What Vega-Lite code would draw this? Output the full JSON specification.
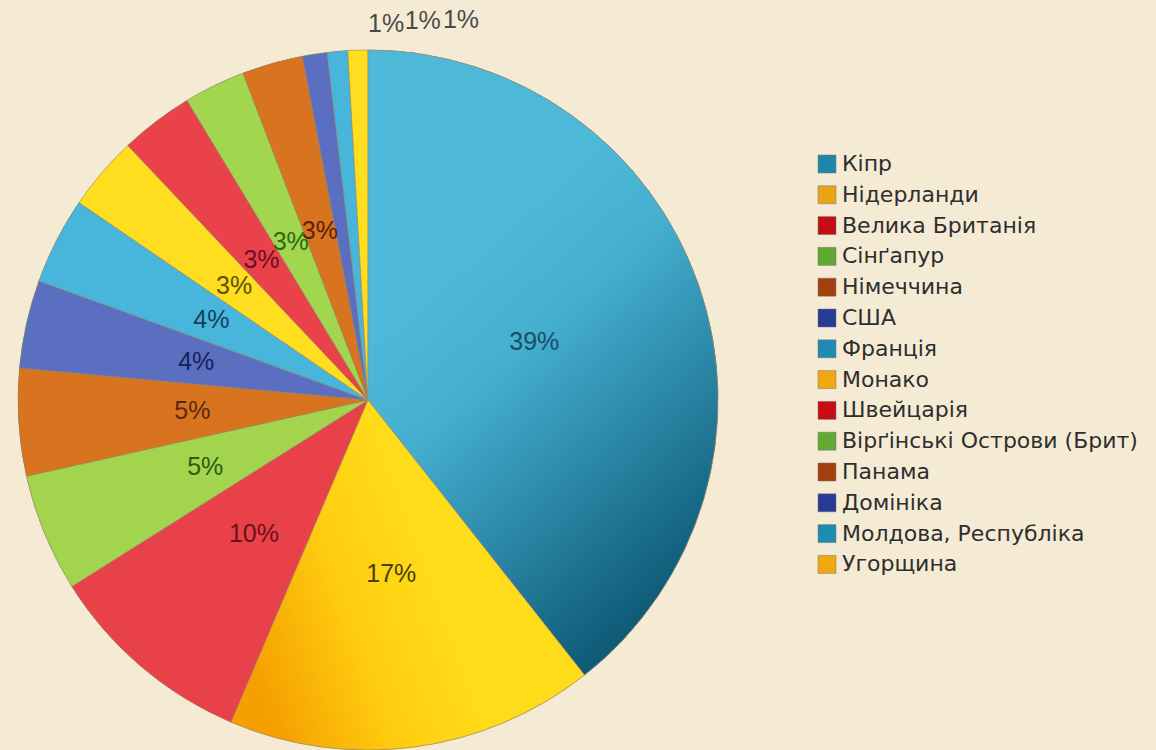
{
  "$schema": "https://vega.github.io/schema/vega-lite/v6.json",
  "width": 736,
  "height": 800,
  "padding": {"left": 0, "top": 0, "right": 19, "bottom": -50},
  "background": "#F5EBD4",
  "config": {"view": {"stroke": null}},
  "data": {
    "values": [
      {"country": "Кіпр", "value": 0.393},
      {"country": "Нідерланди", "value": 0.1697},
      {"country": "Велика Британія", "value": 0.0964},
      {"country": "Сінґапур", "value": 0.0544},
      {"country": "Німеччина", "value": 0.0494},
      {"country": "США", "value": 0.0406},
      {"country": "Франція", "value": 0.0400},
      {"country": "Монако", "value": 0.0342},
      {"country": "Швейцарія", "value": 0.0338},
      {"country": "Вірґінські Острови (Брит)", "value": 0.0283},
      {"country": "Панама", "value": 0.0280},
      {"country": "Домініка", "value": 0.0114},
      {"country": "Молдова, Республіка", "value": 0.0094},
      {"country": "Угорщина", "value": 0.0092}
    ]
  },
  "resolve": {"scale": {"fill": "independent"}},
  "layer": [
    {
      "mark": {"type": "arc", "radius": 350},
      "encoding": {
        "theta": {"field": "value", "type": "quantitative", "stack": true},
        "order": {"field": "value", "sort": "descending"},
        "color": {
          "field": "country", "type": "nominal",
          "scale": {
            "domain": ["Кіпр", "Нідерланди", "Велика Британія", "Сінґапур", "Німеччина", "США", "Франція", "Монако", "Швейцарія", "Вірґінські Острови (Брит)", "Панама", "Домініка", "Молдова, Республіка", "Угорщина"],
            "range": ["#1d86a8", "#eba416", "#c40c14", "#5fa832", "#a2400e", "#263c94", "#1d8cb0", "#f0a810", "#c80c14", "#62aa34", "#a2400e", "#263c94", "#1d8cb0", "#f0a810"]
          },
          "legend": {
            "title": null,
            "orient": "none",
            "legendX": 816,
            "legendY": 153,
            "symbolType": "square",
            "symbolSize": 324,
            "symbolStrokeWidth": 0.5,
            "symbolStrokeColor": "#777777",
            "labelFont": "DejaVu Sans",
            "labelFontSize": 22,
            "labelColor": "#2e2e2e",
            "labelOffset": 4,
            "labelLimit": 400,
            "rowPadding": 8.8,
            "padding": 0
          }
        }
      }
    },
    {
      "mark": {"type": "arc", "radius": 350, "stroke": "#9c8a6c", "strokeWidth": 0.6},
      "encoding": {
        "theta": {"field": "value", "type": "quantitative", "stack": true},
        "order": {"field": "value", "sort": "descending"},
        "fill": {
          "field": "country", "type": "nominal", "legend": null,
          "scale": {
            "domain": ["Кіпр", "Нідерланди", "Велика Британія", "Сінґапур", "Німеччина", "США", "Франція", "Монако", "Швейцарія", "Вірґінські Острови (Брит)", "Панама", "Домініка", "Молдова, Республіка", "Угорщина"],
            "range": ["#3DA8C8", "#FFD414", "#E8414A", "#A2D44E", "#D8731F", "#5B6FC0", "#47B6DA", "#FFDD1F", "#EA424A", "#A2D64F", "#D8731F", "#5B6FC0", "#47B6DA", "#FFDD1F"]
          }
        }
      }
    },
    {
      "mark": {"type": "arc", "radius": 350, "stroke": "#9c8a6c", "strokeWidth": 0.6},
      "encoding": {
        "theta": {"field": "value", "type": "quantitative", "stack": true},
        "order": {"field": "value", "sort": "descending"},
        "fill": {
          "condition": [
            {"test": "datum.country === 'Кіпр'", "value": {"gradient": "linear", "x1": 0.35, "y1": 0.3, "x2": 0.7, "y2": 1, "stops": [{"offset": 0, "color": "#4DB8D8"}, {"offset": 0.25, "color": "#45AFD0"}, {"offset": 1, "color": "#0A5470"}]}},
            {"test": "datum.country === 'Нідерланди'", "value": {"gradient": "linear", "x1": 0, "y1": 0.6, "x2": 0.55, "y2": 0.4, "stops": [{"offset": 0, "color": "#F5A000"}, {"offset": 0.55, "color": "#FFCE10"}, {"offset": 1, "color": "#FFDC1A"}]}}
          ],
          "value": "transparent"
        },
        "strokeOpacity": {
          "condition": {"test": "datum.country === 'Кіпр' || datum.country === 'Нідерланди'", "value": 1},
          "value": 0
        }
      }
    },
    {
      "mark": {"type": "text", "radius": 176, "font": "Liberation Sans", "fontSize": 25, "baseline": "middle", "align": "center"},
      "encoding": {
        "theta": {"field": "value", "type": "quantitative", "stack": true},
        "order": {"field": "value", "sort": "descending"},
        "text": {"field": "value", "type": "quantitative", "format": ".0%", "condition": {"test": "datum.value < 0.02", "value": ""}},
        "fill": {
          "field": "country", "type": "nominal", "legend": null,
          "scale": {
            "domain": ["Кіпр", "Нідерланди", "Велика Британія", "Сінґапур", "Німеччина", "США", "Франція", "Монако", "Швейцарія", "Вірґінські Острови (Брит)", "Панама", "Домініка", "Молдова, Республіка", "Угорщина"],
            "range": ["#1B4E66", "#4A3E05", "#6A1218", "#2F5A12", "#5A2A0A", "#15205A", "#163E5C", "#5A5205", "#6E0F22", "#2A6A14", "#5A2208", "#555555", "#555555", "#555555"]
          }
        }
      }
    },
    {
      "mark": {"type": "text", "radius": 380, "dx": 76, "font": "Liberation Sans", "fontSize": 25, "baseline": "middle", "align": "center", "fill": "#4a4a4a"},
      "encoding": {
        "theta": {"field": "value", "type": "quantitative", "stack": true},
        "order": {"field": "value", "sort": "descending"},
        "text": {"field": "value", "type": "quantitative", "format": ".0%", "condition": {"test": "datum.country !== 'Домініка'", "value": ""}}
      }
    },
    {
      "mark": {"type": "text", "radius": 380, "dx": 88, "font": "Liberation Sans", "fontSize": 25, "baseline": "middle", "align": "center", "fill": "#4a4a4a"},
      "encoding": {
        "theta": {"field": "value", "type": "quantitative", "stack": true},
        "order": {"field": "value", "sort": "descending"},
        "text": {"field": "value", "type": "quantitative", "format": ".0%", "condition": {"test": "datum.country !== 'Молдова, Республіка'", "value": ""}}
      }
    },
    {
      "mark": {"type": "text", "radius": 380, "dx": 104, "font": "Liberation Sans", "fontSize": 25, "baseline": "middle", "align": "center", "fill": "#4a4a4a"},
      "encoding": {
        "theta": {"field": "value", "type": "quantitative", "stack": true},
        "order": {"field": "value", "sort": "descending"},
        "text": {"field": "value", "type": "quantitative", "format": ".0%", "condition": {"test": "datum.country !== 'Угорщина'", "value": ""}}
      }
    }
  ]
}
